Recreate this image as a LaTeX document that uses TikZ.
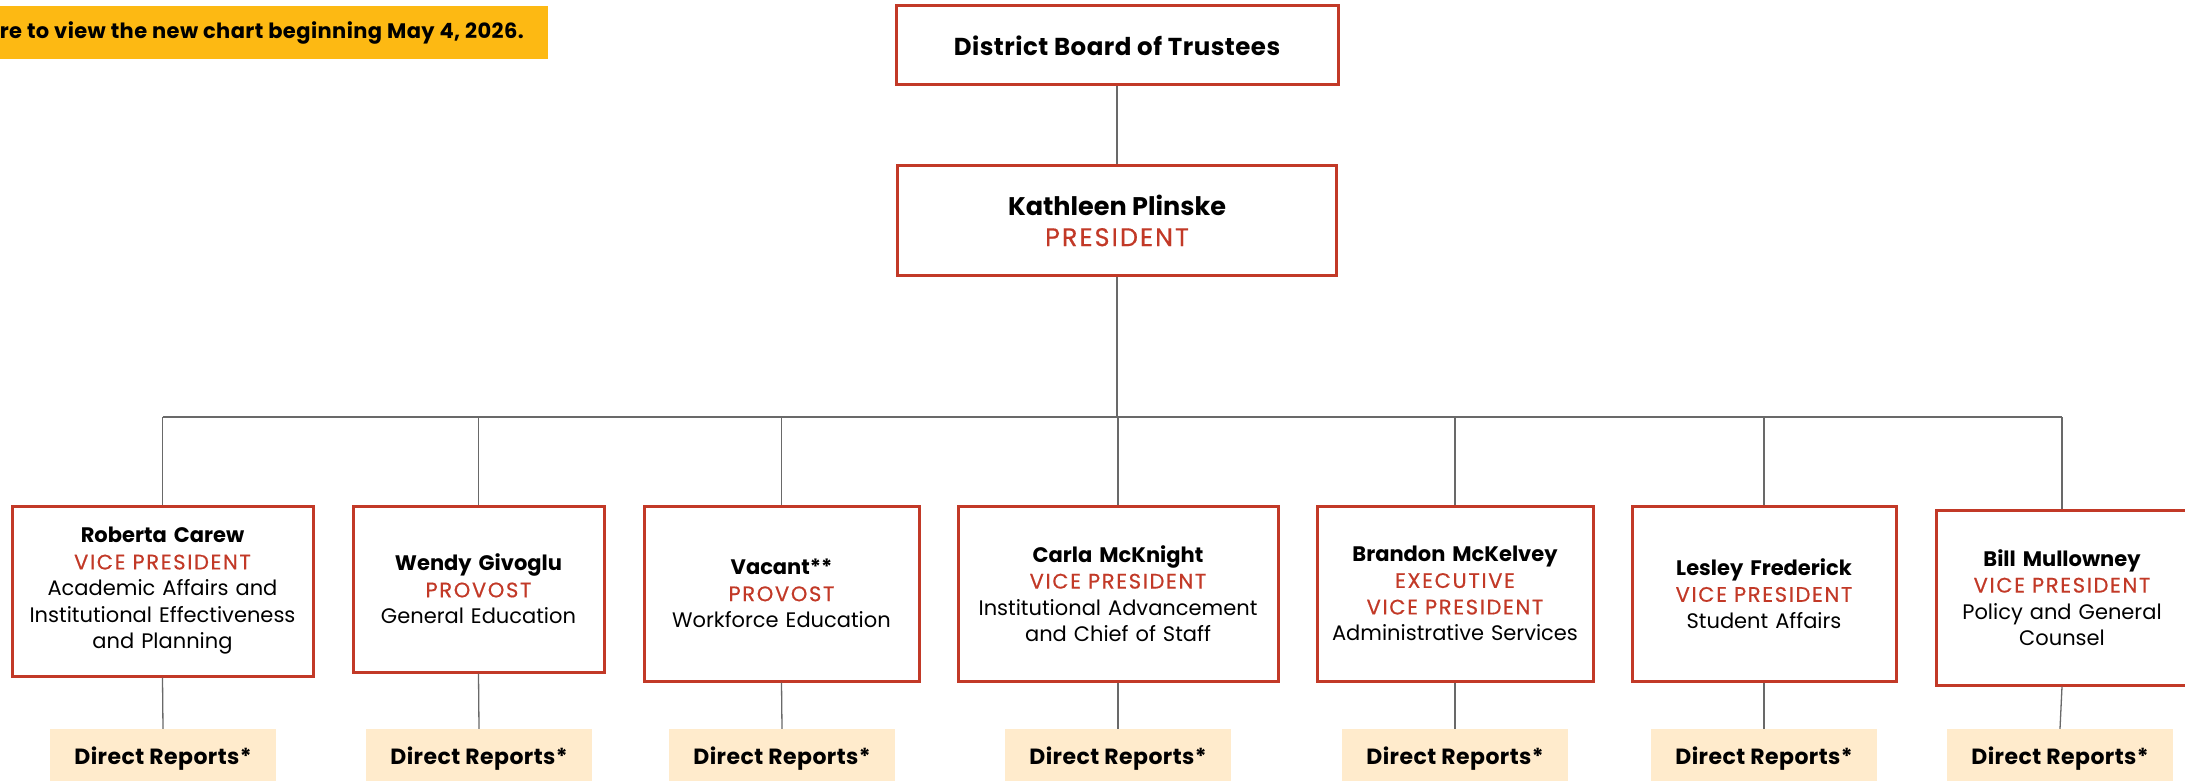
\documentclass[tikz,border=0pt]{standalone}
\usepackage{fontspec}
\setmainfont{Poppins}
\usepackage{tikz}
\usetikzlibrary{positioning,calc}

\definecolor{boxred}{RGB}{194,57,39}
\definecolor{banneryellow}{RGB}{253,185,19}
\definecolor{reportfill}{RGB}{255,235,204}
\definecolor{linkgray}{RGB}{105,105,105}

\newcommand{\pname}[1]{{\bfseries #1}}
\newcommand{\ptitle}[1]{{\addfontfeatures{LetterSpace=8,FakeBold=0.5}\color{boxred}#1}}

\begin{document}
\begin{tikzpicture}[x=1pt,y=-1pt,
  officebox/.style={draw=boxred,line width=3pt,fill=white,align=center,inner sep=0pt,
    font=\fontsize{21}{26.5}\selectfont},
  reportbox/.style={fill=reportfill,minimum width=226pt,minimum height=60pt,inner sep=0pt,
    font=\fontsize{22}{26.5}\selectfont\bfseries\addfontfeatures{LetterSpace=2}},
  link/.style={draw=linkgray,line width=1.3pt}]
  \useasboundingbox (0,0) rectangle (2185,781);
  % banner (cut at the left edge)
  \fill[banneryellow] (0,6) rectangle (548,59);
  \node[anchor=east,inner sep=0pt,font=\fontsize{21}{25}\selectfont\bfseries\addfontfeatures{LetterSpace=2}]
    (banner) at (524,32.5) {re to view the new chart beginning May 4, 2026.};
  % board and president
  \node[officebox,minimum width=442pt,minimum height=79pt,
    font=\fontsize{24.5}{29}\selectfont\bfseries\addfontfeatures{LetterSpace=2}]
    (board) at (1117,45.5) {District Board of Trustees};
  \node[officebox,minimum width=439pt,minimum height=109pt,font=\fontsize{25.5}{31}\selectfont]
    (pres) at (1117,220.5) {\pname{Kathleen Plinske}\\\ptitle{PRESIDENT}};
  \draw[link] (board.south) -- (pres.north);
  % vice presidents and provosts
  \node[officebox,minimum width=301pt,minimum height=170pt,text width=295pt]
    (vp1) at (162.5,591) {\pname{Roberta Carew}\\\ptitle{VICE PRESIDENT}\\Academic Affairs and\\Institutional Effectiveness\\and Planning};
  \node[officebox,minimum width=251pt,minimum height=166pt,text width=245pt]
    (vp2) at (478.5,589) {\pname{Wendy Givoglu}\\\ptitle{PROVOST}\\General Education};
  \node[officebox,minimum width=275pt,minimum height=175pt,text width=269pt]
    (vp3) at (781.5,593.5) {\pname{Vacant**}\\\ptitle{PROVOST}\\Workforce Education};
  \node[officebox,minimum width=320pt,minimum height=175pt,text width=314pt]
    (vp4) at (1118,593.5) {\pname{Carla McKnight}\\\ptitle{VICE PRESIDENT}\\Institutional Advancement\\and Chief of Staff};
  \node[officebox,minimum width=276pt,minimum height=175pt,text width=270pt]
    (vp5) at (1455,593.5) {\pname{Brandon McKelvey}\\\ptitle{EXECUTIVE}\\\ptitle{VICE PRESIDENT}\\Administrative Services};
  \node[officebox,minimum width=264pt,minimum height=175pt,text width=258pt]
    (vp6) at (1764,593.5) {\pname{Lesley Frederick}\\\ptitle{VICE PRESIDENT}\\Student Affairs};
  \node[officebox,minimum width=252pt,minimum height=175pt,text width=246pt]
    (vp7) at (2062,597.5) {\pname{Bill Mullowney}\\\ptitle{VICE PRESIDENT}\\Policy and General\\Counsel};
  % direct reports (cut at the bottom edge)
  \node[reportbox] (dr1) at (163,759) {Direct Reports*};
  \node[reportbox] (dr2) at (479,759) {Direct Reports*};
  \node[reportbox] (dr3) at (782,759) {Direct Reports*};
  \node[reportbox] (dr4) at (1118,759) {Direct Reports*};
  \node[reportbox] (dr5) at (1455,759) {Direct Reports*};
  \node[reportbox] (dr6) at (1764,759) {Direct Reports*};
  \node[reportbox] (dr7) at (2060,759) {Direct Reports*};
  % bus line
  \coordinate (bus) at (0,417);
  \draw[link] (pres.south) -- (pres.south |- bus);
  \draw[link] (vp1.north |- bus) -- (vp7.north |- bus);
  \foreach \i in {1,...,7} {
    \draw[link] (vp\i.north |- bus) -- (vp\i.north);
    \draw[link] (vp\i.south) -- (dr\i.north);
  }
\end{tikzpicture}
\end{document}
